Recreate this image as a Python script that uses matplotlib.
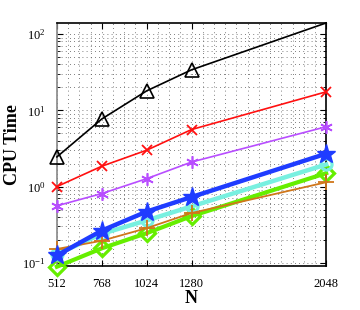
import matplotlib
matplotlib.use("Agg")
import matplotlib.pyplot as plt
from matplotlib.ticker import MultipleLocator, LogLocator, NullFormatter

plt.rcParams['font.family'] = ['Liberation Serif', 'DejaVu Serif']
plt.rcParams['mathtext.fontset'] = 'stix'

# data
N = [512, 768, 1024, 1280, 2048]
black = [2.45, 7.7, 18.0, 34.0, 140.0]
red = [1.0, 1.85, 3.0, 5.6, 17.5]
purple = [0.56, 0.81, 1.27, 2.1, 6.1]
blue = [0.125, 0.265, 0.47, 0.73, 2.7]
cyan = [0.13, 0.24, 0.36, 0.55, 1.95]
green = [0.089, 0.155, 0.245, 0.41, 1.5]
orange = [0.152, 0.195, 0.285, 0.45, 1.14]

fig = plt.figure(figsize=(3.6, 3.1), dpi=100)
ax = fig.add_axes([0.158, 0.142, 0.748, 0.784])

ax.plot(N, black, color='black', lw=1.2, marker='^', ms=10, mfc='none', mew=1.2,
        markevery=[0, 1, 2, 3], clip_on=False, zorder=5)
ax.plot(N, red, color='#ff1010', lw=1.2, marker='x', ms=7, mew=1.3, clip_on=False, zorder=5)
ax.plot(N, purple, color='#b84dff', lw=1.2, marker=(6, 2, 0), ms=9, mew=1.2, clip_on=False, zorder=5)
ax.plot(N, orange, color='#d0761a', lw=1.3, marker='+', ms=11, mew=1.3, clip_on=False, zorder=6)
ax.plot(N, green, color='#66ee00', lw=3, marker='D', ms=8, mfc='none', mew=2.3, clip_on=False, zorder=5)
ax.plot(N, cyan, color='#78f0e0', lw=3.2, marker='o', ms=8, mfc='none', mew=2.3, clip_on=False, zorder=5)
ax.plot(N, blue, color='#1f3cff', lw=3.2, marker='*', ms=14, clip_on=False, zorder=7)

ax.set_yscale('log')
ax.set_xlim(512, 2048)
ax.set_ylim(0.091, 140)
ax.set_xticks(N)
ax.xaxis.set_minor_locator(MultipleLocator(64))
ax.yaxis.set_minor_locator(LogLocator(base=10, subs=range(2, 10), numticks=20))
ax.yaxis.set_minor_formatter(NullFormatter())

ax.grid(True, which='both', linestyle=(0, (1, 4)), color='#555555', lw=0.6)
ax.tick_params(which='both', direction='in', top=True, right=True, labelsize=9)
ax.tick_params(which='minor', length=0)
ax.tick_params(axis='y', which='minor', length=2, right=True)
ax.tick_params(which='major', length=4)
ax.tick_params(axis='x', which='major', pad=9)
ax.tick_params(axis='y', which='major', pad=8)
for s in ax.spines.values():
    s.set_linewidth(1.2)
ax.spines['left'].set_color('#888888')

ax.set_xlabel('N', fontsize=13, fontweight='bold', labelpad=0)
ax.set_ylabel('CPU Time', fontsize=13, fontweight='bold', labelpad=1)

fig.savefig('out.png', dpi=100)
